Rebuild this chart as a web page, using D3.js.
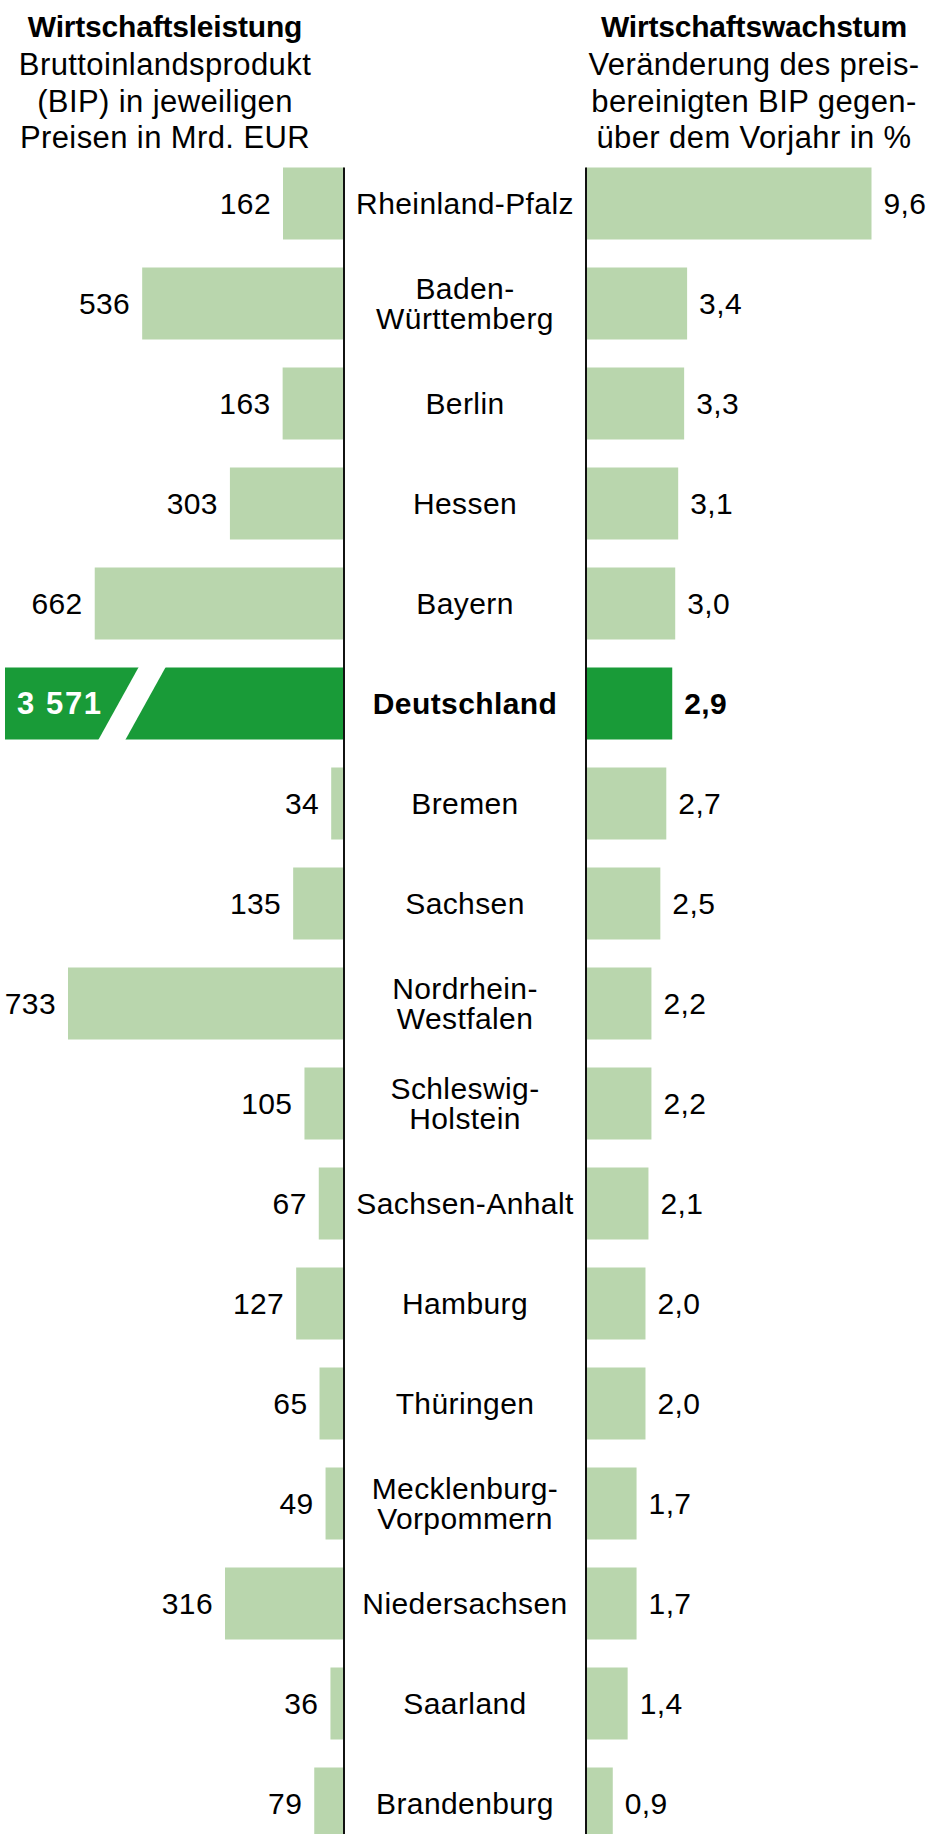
<!DOCTYPE html>
<html>
<head>
<meta charset="utf-8">
<script src="https://cdn.jsdelivr.net/npm/d3@7"></script>
<style>
  html, body { margin: 0; padding: 0; background: #fff; }
  svg { display: block; font-family: "Liberation Sans", Arial, sans-serif; }
  text { letter-spacing: 0.4px; }
</style>
</head>
<body>
<div id="chart"></div>
<script>
(function () {
  'use strict';

  // Data
  var regions = ['Rheinland-Pfalz', 'Baden-|Württemberg', 'Berlin', 'Hessen', 'Bayern', 'Deutschland',
    'Bremen', 'Sachsen', 'Nordrhein-|Westfalen', 'Schleswig-|Holstein', 'Sachsen-Anhalt', 'Hamburg',
    'Thüringen', 'Mecklenburg-|Vorpommern', 'Niedersachsen', 'Saarland', 'Brandenburg'];
  var bip = [162, 536, 163, 303, 662, 3571, 34, 135, 733, 105, 67, 127, 65, 49, 316, 36, 79];
  var growth = [9.6, 3.4, 3.3, 3.1, 3.0, 2.9, 2.7, 2.5, 2.2, 2.2, 2.1, 2.0, 2.0, 1.7, 1.7, 1.4, 0.9];
  var highlight = 'Deutschland';

  var leftHeader = ['Bruttoinlandsprodukt', '(BIP) in jeweiligen', 'Preisen in Mrd. EUR'];
  var rightHeader = ['Veränderung des preis-', 'bereinigten BIP gegen-', 'über dem Vorjahr in %'];

  var width = 930, height = 1834;
  var axisL = 344, axisR = 586, barMinX = 5;
  var light = '#b9d6ad', dark = '#199b38';

  var de = d3.formatLocale({ decimal: ',', thousands: ' ', grouping: [3], currency: ['', ' €'] });
  var fmtBip = de.format(',d');
  var fmtGrowth = de.format('.1f');

  var rows = regions.map(function (r, i) {
    return { key: r.replace('|', ''), lines: r.split('|'), bip: bip[i], growth: growth[i] };
  });

  var y = d3.scaleBand().domain(rows.map(function (d) { return d.key; }))
    .range([153.5, 153.5 + 1700]).paddingInner(0.28).paddingOuter(0.14);
  var xL = d3.scaleLinear().domain([0, 733]).range([axisL, axisL - 276]);
  var xR = d3.scaleLinear().domain([0, 9.6]).range([axisR, axisR + 285.5]);

  var svg = d3.select('#chart').append('svg').attr('width', width).attr('height', height);

  // Headers
  function header(cx, title, lines) {
    var t = svg.append('text').attr('text-anchor', 'middle').attr('font-size', 30).attr('fill', '#000');
    t.append('tspan').attr('x', cx).attr('y', 37).attr('font-weight', 'bold')
      .style('letter-spacing', '-0.2px').text(title);
    lines.forEach(function (l, i) {
      t.append('tspan').attr('x', cx).attr('y', 75 + i * 36.5).attr('font-size', 31).text(l);
    });
  }
  header(165, 'Wirtschaftsleistung', leftHeader);
  header(754, 'Wirtschaftswachstum', rightHeader);

  var g = svg.append('g');
  var row = g.selectAll('g.row').data(rows).enter().append('g').attr('class', 'row');
  function isHi(d) { return d.key === highlight; }
  function cy(d) { return y(d.key) + y.bandwidth() / 2; }

  // Left bars (clamped at the page edge; highlighted bar gets a break)
  row.append('rect')
    .attr('x', function (d) { return Math.max(xL(d.bip), barMinX); })
    .attr('y', function (d) { return y(d.key); })
    .attr('width', function (d) { return axisL - Math.max(xL(d.bip), barMinX); })
    .attr('height', y.bandwidth())
    .attr('fill', function (d) { return isHi(d) ? dark : light; });

  var hiRow = rows.filter(isHi)[0];
  var by = y(hiRow.key), bh = y.bandwidth();
  svg.append('polygon')
    .attr('points', [[139, by - 1], [166, by - 1], [125, by + bh + 1], [98, by + bh + 1]].join(' '))
    .attr('fill', '#fff');

  // Right bars
  row.append('rect')
    .attr('x', axisR)
    .attr('y', function (d) { return y(d.key); })
    .attr('width', function (d) { return xR(d.growth) - axisR; })
    .attr('height', y.bandwidth())
    .attr('fill', function (d) { return isHi(d) ? dark : light; });

  // Left values
  row.append('text')
    .attr('x', function (d) { return isHi(d) ? barMinX + 12 : xL(d.bip) - 12; })
    .attr('y', function (d) { return cy(d) + 10; })
    .attr('text-anchor', function (d) { return isHi(d) ? 'start' : 'end'; })
    .attr('font-size', function (d) { return isHi(d) ? 31 : 30; })
    .attr('font-weight', function (d) { return isHi(d) ? 'bold' : 'normal'; })
    .style('letter-spacing', function (d) { return isHi(d) ? '1.6px' : null; })
    .attr('fill', function (d) { return isHi(d) ? '#fff' : '#000'; })
    .text(function (d) { return fmtBip(d.bip); });

  // Right values
  row.append('text')
    .attr('x', function (d) { return xR(d.growth) + 12; })
    .attr('y', function (d) { return cy(d) + 10; })
    .attr('font-size', 30)
    .attr('font-weight', function (d) { return isHi(d) ? 'bold' : 'normal'; })
    .attr('fill', '#000')
    .text(function (d) { return fmtGrowth(d.growth); });

  // Region labels
  var lab = row.append('text')
    .attr('text-anchor', 'middle')
    .attr('font-size', 30)
    .attr('font-weight', function (d) { return isHi(d) ? 'bold' : 'normal'; })
    .attr('fill', '#000');
  lab.each(function (d) {
    var t = d3.select(this);
    var base = d.lines.length === 1 ? cy(d) + 10 : cy(d) - 5;
    d.lines.forEach(function (l, i) {
      t.append('tspan').attr('x', (axisL + axisR) / 2).attr('y', base + i * 30).text(l);
    });
  });

  // Axis lines
  [axisL, axisR].forEach(function (x) {
    svg.append('line').attr('x1', x).attr('x2', x)
      .attr('y1', y.range()[0] + y.step() * y.paddingOuter()).attr('y2', height)
      .attr('stroke', '#111').attr('stroke-width', 2);
  });
})();
</script>
</body>
</html>
